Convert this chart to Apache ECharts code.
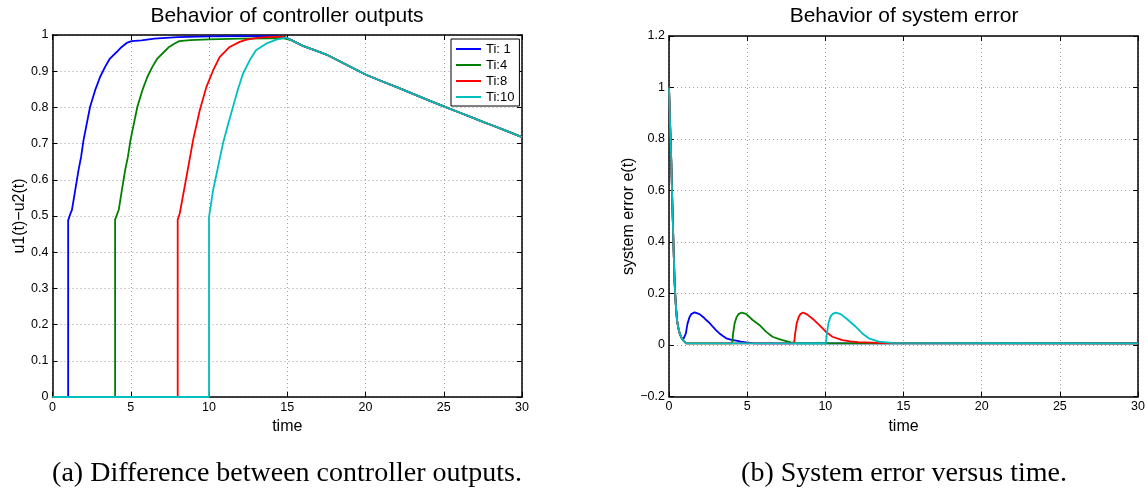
<!DOCTYPE html>
<html><head><meta charset="utf-8">
<script src="https://cdn.jsdelivr.net/npm/echarts/dist/echarts.min.js"></script>
<style>html,body{margin:0;padding:0;background:#fff}#c{width:1148px;height:498px}</style>
</head><body><div id="c"></div><script>
// ---------- data ----------
const seriesNames = ['Ti: 1', 'Ti:4', 'Ti:8', 'Ti:10'];
const xTicks = [0, 5, 10, 15, 20, 25, 30];

// (a) controller output difference u1(t)-u2(t): rise parts [t, value]
const uTi1 = [[0,0],[1.0,0],[1.0,0.488],[1.13,0.505],[1.24,0.516],[1.45,0.571],[1.66,0.626],[1.83,0.664],[1.98,0.709],[2.19,0.755],[2.40,0.801],[2.72,0.847],[3.04,0.884],[3.36,0.912],[3.67,0.935],[4.1,0.953],[4.42,0.967],[4.74,0.978],[5.05,0.983],[5.7,0.985],[6.5,0.99],[8,0.994],[10,0.996],[12,0.997],[14,0.997],[14.8,0.995]];
const uTi4 = [[0,0],[4.0,0],[4.0,0.49],[4.13,0.505],[4.24,0.518],[4.43,0.571],[4.64,0.626],[4.82,0.664],[4.98,0.709],[5.2,0.755],[5.42,0.801],[5.74,0.847],[6.06,0.884],[6.38,0.912],[6.7,0.935],[7.12,0.953],[7.45,0.967],[7.78,0.976],[8.1,0.983],[8.8,0.986],[10,0.988],[12,0.99],[14,0.991],[14.8,0.991]];
const uTi8 = [[0,0],[8.0,0],[8.0,0.49],[8.13,0.507],[8.56,0.608],[8.98,0.709],[9.41,0.792],[9.83,0.856],[10.26,0.902],[10.68,0.939],[11.32,0.967],[11.96,0.981],[12.4,0.987],[13.2,0.993],[14.0,0.995],[14.8,0.995]];
const uTi10 = [[0,0],[10.0,0],[10.0,0.497],[10.26,0.571],[10.55,0.63],[10.89,0.70],[11.2,0.75],[11.53,0.801],[11.85,0.85],[12.17,0.893],[12.6,0.93],[13.0,0.958],[13.65,0.976],[14.3,0.987],[14.9,0.993]];
// common decline after t = 15
const uTail = [[15.3,0.985],[16,0.97],[17,0.954],[17.5,0.946],[18,0.935],[19,0.913],[20,0.891],[21,0.873],[22,0.856],[22.5,0.847],[23,0.838],[24,0.82],[25,0.803],[26,0.786],[27,0.769],[27.5,0.760],[28,0.752],[29,0.735],[30,0.718]];

// (b) system error e(t): common initial decay, then bumps [t, value]
const eDecay = [[0,1],[0.05,0.9],[0.1,0.8],[0.15,0.705],[0.2,0.58],[0.26,0.446],[0.31,0.34],[0.36,0.24],[0.43,0.16],[0.51,0.097],[0.6,0.065],[0.68,0.045],[0.78,0.03],[0.89,0.019],[1.0,0.013]];
const eTi1 = [[1.08,0.045],[1.18,0.082],[1.3,0.106],[1.42,0.12],[1.64,0.127],[1.95,0.12],[2.2,0.108],[2.38,0.097],[2.6,0.085],[2.8,0.071],[3.0,0.058],[3.23,0.045],[3.45,0.035],[3.66,0.026],[4.0,0.02],[4.29,0.017],[4.6,0.013],[4.93,0.01],[5.5,0.006],[30,0.006]];
const eTi4 = [[1.1,0.006],[4.04,0.006],[4.1,0.045],[4.2,0.085],[4.32,0.108],[4.45,0.12],[4.65,0.126],[4.93,0.121],[5.35,0.097],[5.78,0.078],[6.2,0.052],[6.62,0.032],[7.0,0.024],[7.26,0.019],[7.79,0.01],[8.2,0.006],[30,0.006]];
const eTi8 = [[1.1,0.006],[8.0,0.006],[8.07,0.045],[8.17,0.085],[8.3,0.11],[8.42,0.121],[8.58,0.126],[8.85,0.118],[9.28,0.097],[9.6,0.078],[10.03,0.052],[10.45,0.032],[11.08,0.019],[11.6,0.014],[12.1,0.011],[13,0.009],[13.6,0.007],[30,0.006]];
const eTi10 = [[1.1,0.006],[10.03,0.006],[10.1,0.045],[10.2,0.085],[10.33,0.11],[10.47,0.121],[10.66,0.126],[10.98,0.12],[11.4,0.1],[11.94,0.071],[12.36,0.045],[12.78,0.026],[13.42,0.013],[14.27,0.008],[30,0.006]];

// ---------- chart ----------
const colors = ['#0000ff', '#008000', '#ff0000', '#00bfbf'];
const FONT = '"Liberation Sans", Arial, Helvetica, sans-serif';
const chart = echarts.init(document.getElementById('c'), null, {renderer: 'canvas'});

const axLine = {show: true, onZero: false, lineStyle: {color: '#000', width: 1.5}};
const axTick = {show: true, inside: true, length: 5, lineStyle: {color: '#000', width: 1}};
const grid = {show: true, lineStyle: {color: '#a0a0a0', type: [1, 3], width: 1}};
const lbl = {color: '#000', fontSize: 12.5, fontFamily: FONT, margin: 4};
const fmt1 = v => { const r = +(+v).toFixed(1); return (r < 0 ? '\u2212' : '') + Math.abs(r); };

function xAxes(g) {
  return [
    {type: 'value', gridIndex: g, min: 0, max: 30, interval: 5, position: 'bottom',
     axisLine: axLine, axisTick: axTick, splitLine: grid, axisLabel: Object.assign({formatter: fmt1}, lbl),
     name: 'time', nameLocation: 'middle', nameGap: 20,
     nameTextStyle: {color: '#000', fontSize: 16, fontFamily: FONT}},
    {type: 'value', gridIndex: g, min: 0, max: 30, interval: 5, position: 'top',
     axisLine: axLine, axisTick: axTick, splitLine: {show: false}, axisLabel: {show: false}}
  ];
}
function yAxes(g, min, max, itv, name, gap) {
  return [
    {type: 'value', gridIndex: g, min: min, max: max, interval: itv, position: 'left',
     axisLine: axLine, axisTick: axTick, splitLine: grid, axisLabel: Object.assign({formatter: fmt1}, lbl),
     name: name, nameLocation: 'middle', nameGap: gap, nameRotate: 90,
     nameTextStyle: {color: '#000', fontSize: 16, fontFamily: FONT}},
    {type: 'value', gridIndex: g, min: min, max: max, interval: itv, position: 'right',
     axisLine: axLine, axisTick: axTick, splitLine: {show: false}, axisLabel: {show: false}}
  ];
}

const uData = [uTi1, uTi4, uTi8, uTi10].map(a => a.concat(uTail));
const eData = [eTi1, eTi4, eTi8, eTi10].map(a => eDecay.concat(a));

const series = [];
uData.forEach((d, i) => series.push({
  name: seriesNames[i], type: 'line', xAxisIndex: 0, yAxisIndex: 0, data: d,
  showSymbol: false, symbol: 'none', lineStyle: {color: colors[i], width: 1.8}, itemStyle: {color: colors[i]}, z: 2 + i
}));
eData.forEach((d, i) => series.push({
  name: seriesNames[i], type: 'line', xAxisIndex: 2, yAxisIndex: 2, data: d,
  showSymbol: false, symbol: 'none', lineStyle: {color: colors[i], width: 1.8}, itemStyle: {color: colors[i]}, z: 2 + i
}));

chart.setOption({
  animation: false,
  backgroundColor: '#fff',
  grid: [
    {left: 52.5, right: 626, top: 35, bottom: 101, containLabel: false},
    {left: 669, right: 8, top: 36, bottom: 101.5, containLabel: false}
  ],
  xAxis: xAxes(0).concat(xAxes(1)),
  yAxis: yAxes(0, 0, 1, 0.1, 'u1(t)\u2212u2(t)', 24).concat(yAxes(1, -0.2, 1.2, 0.2, 'system error e(t)', 30)),
  legend: {
    data: seriesNames, orient: 'vertical', left: 451, top: 39,
    icon: 'rect', itemWidth: 25, itemHeight: 2, itemGap: 2,
    padding: [3, 5, 2, 5], backgroundColor: '#fff', borderColor: '#000', borderWidth: 1,
    textStyle: {color: '#000', fontSize: 13, fontFamily: FONT, lineHeight: 14},
    selectedMode: false, z: 10
  },
  series: series,
  graphic: [
    {type: 'text', x: 287, y: 16, style: {text: 'Behavior of controller outputs', font: '21px ' + FONT, fill: '#000', textAlign: 'center', textVerticalAlign: 'middle'}},
    {type: 'text', x: 904, y: 16, style: {text: 'Behavior of system error', font: '21px ' + FONT, fill: '#000', textAlign: 'center', textVerticalAlign: 'middle'}},
    {type: 'text', x: 287, y: 474, style: {text: '(a) Difference between controller outputs.', font: '28px "Liberation Serif", "Times New Roman", serif', fill: '#000', textAlign: 'center', textVerticalAlign: 'middle'}},
    {type: 'text', x: 904, y: 474, style: {text: '(b) System error versus time.', font: '28px "Liberation Serif", "Times New Roman", serif', fill: '#000', textAlign: 'center', textVerticalAlign: 'middle'}}
  ]
});
</script></body></html>
